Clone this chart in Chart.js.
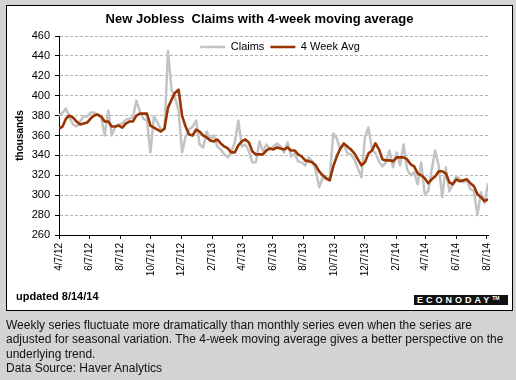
<!DOCTYPE html>
<html>
<head>
<meta charset="utf-8">
<script src="https://cdn.jsdelivr.net/npm/chart.js@4.4.1/dist/chart.umd.min.js"></script>
<style>
  html, body { margin:0; padding:0; width:516px; height:380px; overflow:hidden; background:#d3d3d3;
    font-family: Arial, "Liberation Sans", sans-serif; }
  #panel { position:absolute; left:6px; top:5px; width:505px; height:304px; background:#fff; border:1px solid #000; }
  #c { position:absolute; left:0; top:0; }
  #updated { position:absolute; left:16px; top:290px; font-size:11px; font-weight:bold; color:#000; line-height:13px; }
  #logo { position:absolute; left:414px; top:295px; width:94px; height:10px; background:#111; color:#fff;
    font-size:9px; font-weight:bold; line-height:10px; letter-spacing:3px; text-align:left; padding-left:3px; box-sizing:border-box; white-space:nowrap; }
  #logo sup { font-size:5px; letter-spacing:0; vertical-align:top; line-height:6px; }
  #caption { position:absolute; left:6px; top:318px; font-size:12px; line-height:14.3px; color:#111; white-space:nowrap; }
</style>
</head>
<body>
<div id="panel"></div>
<canvas id="c" width="516" height="380"></canvas>
<div id="updated">updated 8/14/14</div>
<div id="logo">ECONODAY<sup>TM</sup></div>
<div id="caption">Weekly series fluctuate more dramatically than monthly series even when the series are<br>adjusted for seasonal variation. The 4-week moving average gives a better perspective on the<br>underlying trend.<br>Data Source: Haver Analytics</div>
<script>
// ---- Data (weekly, week ending dates starting 4/7/12) ----
const firstWeek = '4/7/12';
const claims = [
  380,383,387,378,371,369,374,379,379,383,383,381,378,360,385,360,369,371,372,376,
  377,378,395,384,377,375,343,379,373,366,366,445,406,398,385,343,359,366,369,375,
  351,348,364,356,360,349,346,341,338,344,353,375,349,351,344,333,333,354,344,351,
  346,349,352,349,343,353,339,342,334,333,330,338,334,325,308,318,316,318,362,357,
  346,351,342,341,336,327,318,358,368,346,342,334,329,333,345,328,343,330,351,326,
  320,323,311,333,301,304,326,345,329,298,328,304,311,319,316,313,315,306,304,280,
  303,292,312
];
const avg4 = [
  367,369,377,380,378,374,371,372,373,377,380,381,379,374,374,369,369,370,368,372,
  374,374,380,382,382,382,370,368,366,364,367,388,396,403,406,380,369,361,360,366,
  364,360,358,355,354,356,352,349,347,343,343,350,354,356,353,344,341,341,341,345,
  347,346,348,347,346,348,345,345,341,339,335,334,333,330,324,320,317,315,329,339,
  347,352,349,346,342,336,330,333,342,345,352,346,336,335,335,334,338,338,338,336,
  331,329,322,320,317,312,316,319,324,324,322,313,311,316,314,315,316,312,309,301,
  298,294,296
];
const tickLabels = ['4/7/12','6/7/12','8/7/12','10/7/12','12/7/12','2/7/13','4/7/13','6/7/13',
  '8/7/13','10/7/13','12/7/13','2/7/14','4/7/14','6/7/14','8/7/14'];
const seriesNames = ['Claims', '4 Week Avg'];

// ---- helpers: dates -> day offsets from first week ----
function parseDay(s) {
  const [m, d, y] = s.split('/').map(Number);
  return Date.UTC(2000 + y, m - 1, d) / 86400000;
}
const day0 = parseDay(firstWeek);
const weekDays = claims.map((_, i) => i * 7);            // week ending dates as day offsets
const tickDays = tickLabels.map(s => parseDay(s) - day0);

const FONT = 'Arial, "Liberation Sans", sans-serif';
Chart.defaults.font.family = FONT;
Chart.defaults.color = '#000';

// place the legend inside the plot area (top centre) and centre the title on the panel
const placeBoxes = {
  id: 'placeBoxes',
  beforeDraw(chart) {
    const lg = chart.legend;
    if (lg) {
      lg.top = 35.5; lg.bottom = lg.top + 26;
      lg.left = 59; lg.right = 501;
      lg.height = 26;
    }
    const t = chart.titleBlock;
    if (t) { t.left = 0; t.right = 519; }
  }
};

new Chart(document.getElementById('c'), {
  type: 'line',
  data: {
    datasets: [
      { label: seriesNames[0], data: weekDays.map((d, i) => ({ x: d, y: claims[i] })),
        borderColor: '#c3c3c3', backgroundColor: '#c3c3c3', borderWidth: 2.5, pointRadius: 0,
        tension: 0, borderJoinStyle: 'round', order: 1 },
      { label: seriesNames[1], data: weekDays.map((d, i) => ({ x: d, y: avg4[i] })),
        borderColor: '#993300', backgroundColor: '#993300', borderWidth: 2.6, pointRadius: 0,
        tension: 0, borderJoinStyle: 'round', order: 0 }
    ]
  },
  options: {
    responsive: false,
    animation: false,
    events: [],
    layout: { padding: { left: 0, right: 28, top: 0, bottom: 100 } },
    plugins: {
      title: { display: true, text: 'New Jobless  Claims with 4-week moving average',
        font: { size: 13, weight: 'bold', family: FONT }, color: '#000',
        padding: { top: 12, bottom: 4.4 } },
      legend: { display: true, position: 'top', maxHeight: 4,
        labels: { usePointStyle: true, pointStyle: 'line', pointStyleWidth: 25, boxHeight: 11,
          padding: 6, font: { size: 11, family: FONT }, color: '#000',
          sort: (a, b) => a.datasetIndex - b.datasetIndex } },
      tooltip: { enabled: false }
    },
    scales: {
      x: {
        type: 'linear', min: 0, max: weekDays[weekDays.length - 1],
        afterBuildTicks: s => { s.ticks = tickDays.map(v => ({ value: v })); },
        afterFit: s => { s.height = 45; },
        ticks: { autoSkip: false, minRotation: 90, maxRotation: 90, padding: 4,
          font: { size: 10, family: FONT }, color: '#000',
          callback: (v, i) => tickLabels[i] },
        grid: { drawOnChartArea: false, drawTicks: true, tickLength: 4, tickColor: '#000' },
        border: { color: '#000', width: 1 }
      },
      y: {
        min: 260, max: 460,
        afterFit: s => { s.width = 59; },
        ticks: { stepSize: 20, padding: 5, font: { size: 11, family: FONT }, color: '#000' },
        grid: { color: '#b4b4b4', lineWidth: 1, tickLength: 4, tickColor: '#000' },
        border: { color: '#000', width: 1, dash: [3, 2] },
        title: { display: true, text: 'thousands', color: '#000',
          font: { size: 10, weight: 'bold', family: FONT }, padding: { top: 14, bottom: 0 } }
      }
    }
  },
  plugins: [placeBoxes]
});
</script>
</body>
</html>
